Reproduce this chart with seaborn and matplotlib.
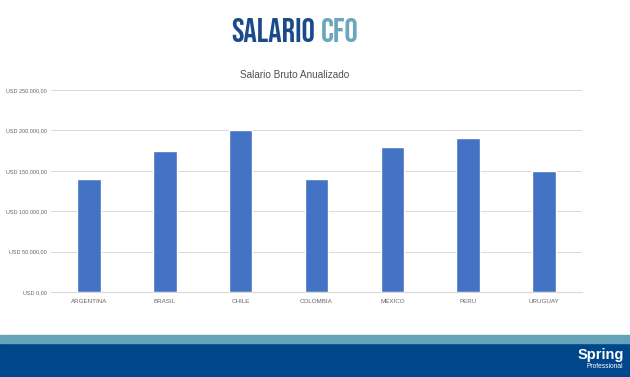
import matplotlib
matplotlib.use("Agg")
import matplotlib.pyplot as plt
import seaborn as sns
import pandas as pd
from matplotlib.ticker import FuncFormatter
from matplotlib.patches import Rectangle

countries = ["ARGENTINA", "BRASIL", "CHILE", "COLOMBIA", "MEXICO", "PERU", "URUGUAY"]
salaries = [140000, 175000, 200000, 140000, 180000, 190000, 150000]
yticks = [0, 50000, 100000, 150000, 200000, 250000]

df = pd.DataFrame({"pais": countries, "salario": salaries})

sns.set_theme(style="white")
plt.rcParams['font.family'] = ['Liberation Sans', 'DejaVu Sans']

fig = plt.figure(figsize=(6.3, 3.77), dpi=100)
W, H = 630, 377
ax = fig.add_axes([51 / W, 1 - 292 / H, (582 - 51) / W, (292 - 90) / H])

sns.barplot(data=df, x="pais", y="salario", color="#4472c4", width=0.31,
            saturation=1, ax=ax, zorder=3)

ax.set_ylim(0, 250000)
ax.set_yticks(yticks)
def fmt(v, pos):
    s = f"{v:,.2f}".replace(",", "X").replace(".", ",").replace("X", ".")
    return "USD " + s
ax.yaxis.set_major_formatter(FuncFormatter(fmt))
ax.grid(axis="y", color="#d9d9d9", linewidth=0.7, zorder=0)
ax.set_xlabel("")
ax.set_ylabel("")
for s in ["top", "right", "left"]:
    ax.spines[s].set_visible(False)
ax.spines["bottom"].set_color("#d9d9d9")
ax.spines["bottom"].set_linewidth(0.8)
ax.tick_params(axis="both", length=0, colors="#666666")
ax.tick_params(axis="x", pad=5, labelsize=4.5)
ax.tick_params(axis="y", pad=3, labelsize=4.0)

fig.text(295 / W, 1 - 75 / H, "Salario Bruto Anualizado", ha="center", va="center",
         fontsize=7.2, color="#505050")

# Header title
hdr_font = ["Bebas Neue", "Oswald", "Roboto Condensed", "Liberation Sans Narrow",
            "Liberation Sans"]
fig.text(318 / W - 0.004, 1 - 30 / H, "SALARIO", ha="right", va="center",
         fontsize=24, fontweight="bold", family=hdr_font, color="#1b4a8a")
fig.text(318 / W + 0.004, 1 - 30 / H, "CFO", ha="left", va="center",
         fontsize=24, fontweight="bold", family=hdr_font, color="#6aa6bc")

# Footer bands
fig.patches.append(Rectangle((0, 0), 1, 34 / H, transform=fig.transFigure,
                             color="#00468b", zorder=0))
fig.patches.append(Rectangle((0, 34 / H), 1, 8 / H, transform=fig.transFigure,
                             color="#64a3b8", zorder=0))
fig.text(624 / W, 1 - 355 / H, "Spring", ha="right", va="center", fontsize=10.5,
         fontweight="bold", color="white")
fig.text(623 / W, 1 - 367 / H, "Professional", ha="right", va="center", fontsize=4.8,
         color="white")

fig.savefig("out.png", dpi=100)
